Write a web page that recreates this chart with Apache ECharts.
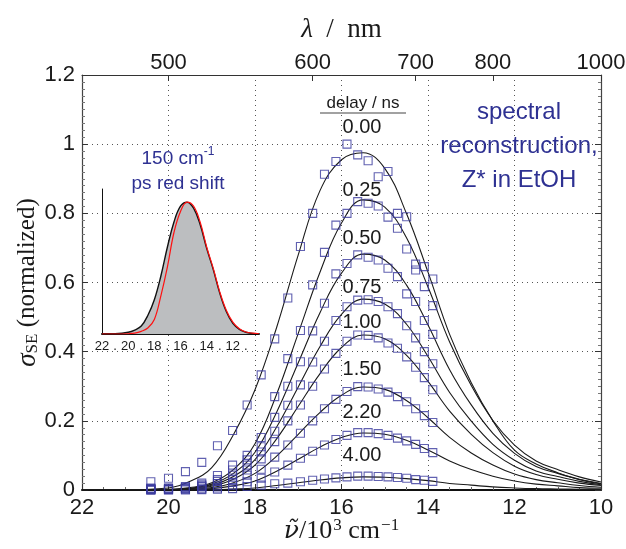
<!DOCTYPE html>
<html>
<head>
<meta charset="UTF-8">
<title>spectral reconstruction</title>
<script src="https://cdn.jsdelivr.net/npm/echarts@6/dist/echarts.min.js"></script>
</head>
<body style="margin:0;background:#fff;">
<div id="main" style="width:626px;height:549px;"></div>
<script>
// wavenumber grid of the fitted curves (10^3 cm^-1)
var nuGrid = [22, 21, 20, 19.5, 19, 18.5, 18, 17.5, 17, 16.5, 16, 15.5, 15, 14.5, 14, 13.5, 13, 12.5, 12, 11.5, 11, 10.5, 10];
var delays = ['0.00', '0.25', '0.50', '0.75', '1.00', '1.50', '2.20', '4.00'];

var fit000 = [0, 0.001, 0.006, 0.025, 0.065, 0.16, 0.29, 0.47, 0.68, 0.865, 0.955, 0.975, 0.93, 0.8, 0.63, 0.45, 0.31, 0.2, 0.115, 0.075, 0.05, 0.03, 0.018];
var fit025 = [0, 0, 0.002, 0.007, 0.021, 0.059, 0.134, 0.277, 0.453, 0.629, 0.772, 0.839, 0.818, 0.73, 0.587, 0.428, 0.302, 0.201, 0.13, 0.084, 0.059, 0.038, 0.023];
var fit050 = [0, 0, 0.001, 0.005, 0.017, 0.048, 0.109, 0.225, 0.368, 0.512, 0.627, 0.682, 0.665, 0.593, 0.477, 0.348, 0.246, 0.164, 0.106, 0.068, 0.048, 0.031, 0.019];
var fit075 = [0, 0, 0.001, 0.004, 0.014, 0.039, 0.088, 0.182, 0.298, 0.414, 0.508, 0.552, 0.538, 0.48, 0.386, 0.282, 0.199, 0.132, 0.086, 0.055, 0.039, 0.025, 0.015];
var fit100 = [0, 0, 0.001, 0.004, 0.011, 0.031, 0.072, 0.148, 0.242, 0.336, 0.412, 0.448, 0.437, 0.39, 0.314, 0.228, 0.161, 0.108, 0.069, 0.045, 0.031, 0.02, 0.013];
var fit150 = [0, 0, 0.001, 0.002, 0.007, 0.021, 0.048, 0.098, 0.161, 0.224, 0.274, 0.298, 0.291, 0.259, 0.209, 0.152, 0.107, 0.072, 0.046, 0.03, 0.021, 0.013, 0.008];
var fit220 = [0, 0, 0, 0.001, 0.004, 0.012, 0.026, 0.054, 0.089, 0.124, 0.152, 0.165, 0.161, 0.144, 0.116, 0.084, 0.059, 0.04, 0.026, 0.017, 0.012, 0.007, 0.005];
var fit400 = [0, 0, 0, 0, 0.001, 0.003, 0.006, 0.013, 0.021, 0.029, 0.035, 0.038, 0.037, 0.033, 0.027, 0.019, 0.014, 0.009, 0.006, 0.004, 0.003, 0.002, 0.001];

// measured points, every 10 nm
var wavelengths = [490, 500, 510, 520, 530, 540, 550, 560, 570, 580, 590, 600, 610, 620, 630, 640, 650, 660, 670, 680, 690, 700, 710, 720];
var sq000 = [0.024, 0.034, 0.053, 0.08, 0.128, 0.172, 0.246, 0.333, 0.437, 0.555, 0.704, 0.80, 0.913, 0.95, 1.0, 0.969, 0.952, 0.906, 0.921, 0.80, 0.79, 0.653, 0.646, 0.61];
var sq025 = [0.006, 0.006, 0.01, 0.02, 0.042, 0.072, 0.1, 0.152, 0.27, 0.38, 0.461, 0.593, 0.687, 0.766, 0.80, 0.834, 0.829, 0.821, 0.789, 0.757, 0.697, 0.636, 0.588, 0.533];
var sq050 = [0.004, 0.005, 0.008, 0.015, 0.03, 0.058, 0.087, 0.125, 0.21, 0.3, 0.371, 0.46, 0.54, 0.625, 0.655, 0.68, 0.673, 0.665, 0.641, 0.617, 0.567, 0.545, 0.49, 0.45];
var sq075 = [0.003, 0.003, 0.006, 0.012, 0.025, 0.043, 0.072, 0.11, 0.17, 0.245, 0.304, 0.37, 0.43, 0.49, 0.53, 0.549, 0.55, 0.545, 0.53, 0.51, 0.475, 0.44, 0.40, 0.365];
var sq100 = [0.002, 0.002, 0.005, 0.01, 0.018, 0.03, 0.058, 0.09, 0.14, 0.2, 0.246, 0.3, 0.35, 0.395, 0.43, 0.448, 0.447, 0.44, 0.425, 0.41, 0.385, 0.355, 0.325, 0.29];
var sq150 = [0.001, 0.002, 0.003, 0.006, 0.012, 0.022, 0.043, 0.06, 0.095, 0.13, 0.164, 0.2, 0.235, 0.262, 0.285, 0.299, 0.298, 0.292, 0.283, 0.27, 0.255, 0.235, 0.215, 0.195];
var sq220 = [0, 0.001, 0.002, 0.003, 0.006, 0.014, 0.024, 0.034, 0.052, 0.072, 0.092, 0.112, 0.13, 0.146, 0.158, 0.166, 0.166, 0.163, 0.158, 0.15, 0.142, 0.132, 0.12, 0.108];
var sq400 = [0, 0, 0, 0.001, 0.002, 0.004, 0.01, 0.014, 0.018, 0.02, 0.024, 0.028, 0.032, 0.035, 0.038, 0.04, 0.04, 0.039, 0.038, 0.036, 0.034, 0.03, 0.028, 0.025];

// inset: normalized spectrum and its red-shifted copy
var insetBlack = [0, 0.002, 0.013, 0.03, 0.06, 0.14, 0.26, 0.44, 0.66, 0.85, 0.97, 1.0, 0.955, 0.83, 0.65, 0.49, 0.31, 0.17, 0.08, 0.035, 0.013, 0.005, 0.002];
var insetRed = [0, 0, 0.002, 0.006, 0.02, 0.045, 0.11, 0.29, 0.51, 0.77, 0.93, 1.0, 0.97, 0.85, 0.66, 0.5, 0.32, 0.18, 0.09, 0.04, 0.015, 0.006, 0.002];
var insetTicks = [22, 21, 20, 19, 18, 17, 16, 15, 14, 13, 12, 11];
var insetTickLabels = ['22', '.', '20', '.', '18', '.', '16', '.', '14', '.', '12', '.'];

var lambdaTicks = [500, 600, 700, 800, 1000];

var fits = [fit000, fit025, fit050, fit075, fit100, fit150, fit220, fit400];
var squares = [sq000, sq025, sq050, sq075, sq100, sq150, sq220, sq400];

var blue = '#2e3192';
var ink = '#1a1a1a';
var sans = "'Liberation Sans', Arial, sans-serif";
var serif = "'Liberation Serif', 'DejaVu Serif', serif";

var myChart = echarts.init(document.getElementById('main'));

var series = [];
fits.forEach(function (f, k) {
	series.push({
		name: delays[k] + ' fit',
		type: 'line',
		xAxisIndex: 0, yAxisIndex: 0,
		data: nuGrid.map(function (n, i) { return [n, f[i]]; }),
		smooth: 0.4,
		showSymbol: false,
		lineStyle: { color: ink, width: 1.1 },
		z: 3
	});
});
squares.forEach(function (s, k) {
	series.push({
		name: delays[k],
		type: 'scatter',
		xAxisIndex: 0, yAxisIndex: 0,
		data: wavelengths.map(function (w, i) { return [10000 / w, s[i]]; }),
		symbol: 'rect',
		symbolSize: 8,
		itemStyle: { color: 'rgba(0,0,0,0)', borderColor: '#3a3a9e', borderWidth: 1.1 },
		z: 4
	});
});
series.push({
	name: 'inset', type: 'line', xAxisIndex: 2, yAxisIndex: 2,
	data: nuGrid.map(function (n, i) { return [n, insetBlack[i]]; }),
	smooth: 0.4, showSymbol: false,
	lineStyle: { color: '#111', width: 1.4 },
	areaStyle: { color: '#bcbec0', opacity: 1 },
	z: 5
});
series.push({
	name: 'inset shifted', type: 'line', xAxisIndex: 2, yAxisIndex: 2,
	data: nuGrid.map(function (n, i) { return [n, insetRed[i]]; }),
	smooth: 0.4, showSymbol: false,
	lineStyle: { color: '#ff1010', width: 1.2 },
	z: 6
});

var dotted = { type: [1, 4], color: '#555', width: 1 };

var labelPos = [[362, 127], [362, 190], [362, 238], [362, 287], [362, 322], [362, 369], [362, 412], [362, 455]];
var graphics = delays.map(function (d, k) {
	return {
		type: 'text', x: labelPos[k][0], y: labelPos[k][1], z: 10,
		style: { text: d, fontSize: 20, fontFamily: sans, fill: ink, align: 'center', verticalAlign: 'middle' }
	};
});
graphics.push({
	type: 'text', x: 363, y: 103, z: 10,
	style: { text: 'delay / ns', fontSize: 17, fontFamily: sans, fill: ink, align: 'center', verticalAlign: 'middle' }
});
graphics.push({
	type: 'line', z: 10,
	shape: { x1: 320, y1: 113, x2: 406, y2: 113 },
	style: { stroke: '#444', lineWidth: 1.2 }
});
graphics.push({
	type: 'text', x: 519, y: 146, z: 10,
	style: {
		text: 'spectral\nreconstruction,\nZ* in EtOH', fontSize: 24, lineHeight: 34,
		fontFamily: sans, fill: blue, align: 'center', verticalAlign: 'middle'
	}
});
graphics.push({
	type: 'text', x: 178, y: 171, z: 10,
	style: {
		text: '{a|150 cm}{s|-1}\n{a|ps red shift}',
		align: 'center', verticalAlign: 'middle',
		rich: {
			a: { fontSize: 19, fontFamily: sans, fill: blue, color: blue, lineHeight: 25 },
			s: { fontSize: 12, fontFamily: sans, fill: blue, color: blue, verticalAlign: 'top', lineHeight: 25, padding: [0, 0, 10, 0] }
		}
	}
});

var option = {
	animation: false,
	backgroundColor: '#fff',
	grid: [
		{ left: 82, right: 25, top: 75, bottom: 59, outerBoundsMode: 'none', containLabel: false },
		{ left: 102, top: 189, width: 157, height: 145, outerBoundsMode: 'none', containLabel: false }
	],
	xAxis: [
		{
			gridIndex: 0, type: 'value', min: 10, max: 22, interval: 2, inverse: true, position: 'bottom',
			axisLine: { onZero: false, lineStyle: { color: '#111', width: 2 } },
			axisTick: { inside: true, length: 6, lineStyle: { color: '#333' } },
			minorTick: { show: true, splitNumber: 4, length: 3, lineStyle: { color: '#666' } },
			axisLabel: { fontSize: 22, color: ink, fontFamily: sans, margin: 7 },
			splitLine: { show: true, lineStyle: dotted },
			name: '{i|ν̃}{r|/10}{s|3}{r| cm}{s|−1}', nameLocation: 'middle', nameGap: 27, nameMoveOverlap: false,
			nameTextStyle: {
				rich: {
					i: { fontSize: 25, fontFamily: "'DejaVu Serif', serif", fontStyle: 'italic', color: ink },
					r: { fontSize: 26, fontFamily: serif, color: ink },
					s: { fontSize: 17, fontFamily: serif, color: ink, verticalAlign: 'top', padding: [0, 0, 12, 1] }
				}
			}
		},
		{
			gridIndex: 0, type: 'value', min: 10, max: 22, inverse: true, position: 'top',
			axisLine: { onZero: false, lineStyle: { color: '#333', width: 1 } },
			axisTick: { inside: true, length: 6, customValues: lambdaTicks.map(function (l) { return 10000 / l; }), lineStyle: { color: '#333' } },
			axisLabel: {
				fontSize: 22, color: ink, fontFamily: sans, margin: 1,
				customValues: lambdaTicks.map(function (l) { return 10000 / l; }),
				formatter: function (v) { return String(Math.round(10000 / v)); }
			},
			splitLine: { show: false },
			name: '{i|λ}{r|  /  nm}', nameLocation: 'middle', nameGap: 32, nameMoveOverlap: false,
			nameTextStyle: {
				rich: {
					i: { fontSize: 27, fontFamily: serif, fontStyle: 'italic', color: ink },
					r: { fontSize: 27, fontFamily: serif, color: ink }
				}
			}
		},
		{
			gridIndex: 1, type: 'value', min: 10, max: 22, inverse: true,
			axisLine: { onZero: false, lineStyle: { color: '#111', width: 2 } },
			axisTick: { show: false },
			axisLabel: {
				fontSize: 13, color: ink, fontFamily: sans, margin: 6,
				customValues: insetTicks,
				formatter: function (v) { return insetTickLabels[insetTicks.indexOf(v)] || ''; }
			},
			splitLine: { show: false }
		}
	],
	yAxis: [
		{
			gridIndex: 0, type: 'value', min: 0, max: 1.2, interval: 0.2, position: 'left',
			axisLine: { show: true, lineStyle: { color: '#444', width: 1.2 } },
			axisTick: { inside: true, length: 6, lineStyle: { color: '#333' } },
			minorTick: { show: true, splitNumber: 10, length: 3, lineStyle: { color: '#777' } },
			axisLabel: { fontSize: 22, color: ink, fontFamily: sans, margin: 7 },
			splitLine: { show: true, lineStyle: dotted },
			name: '{i|σ}{s|SE}{r| (normalized)}', nameLocation: 'middle', nameGap: 41, nameRotate: 90, nameMoveOverlap: false,
			nameTextStyle: {
				rich: {
					i: { fontSize: 27, fontFamily: serif, fontStyle: 'italic', color: ink },
					r: { fontSize: 25, fontFamily: serif, color: ink },
					s: { fontSize: 17, fontFamily: serif, color: ink, verticalAlign: 'bottom', padding: [6, 0, 0, 0] }
				}
			}
		},
		{
			gridIndex: 0, type: 'value', min: 0, max: 1.2, interval: 0.2, position: 'right',
			axisLine: { show: true, lineStyle: { color: '#444', width: 1.2 } },
			axisTick: { inside: true, length: 6, lineStyle: { color: '#333' } },
			minorTick: { show: true, splitNumber: 10, length: 3, lineStyle: { color: '#777' } },
			axisLabel: { show: false },
			splitLine: { show: false }
		},
		{
			gridIndex: 1, type: 'value', min: 0, max: 1.1,
			axisLine: { show: true, lineStyle: { color: '#111', width: 1 } },
			axisTick: { show: false },
			axisLabel: { show: false },
			splitLine: { show: false }
		}
	],
	graphic: graphics,
	series: series
};

myChart.setOption(option);
</script>
</body>
</html>
